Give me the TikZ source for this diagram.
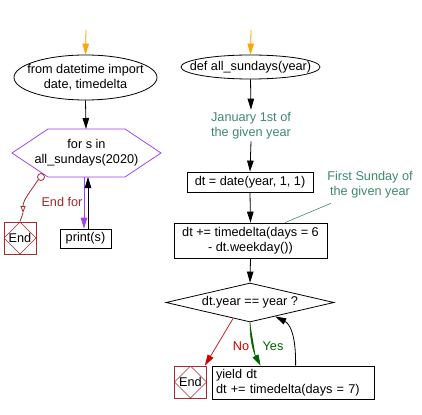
\documentclass[tikz,border=0pt]{standalone}
\usepackage{fontspec}
\setmainfont{Liberation Sans}
\usetikzlibrary{arrows.meta,shapes.geometric,calc}
\definecolor{orng}{HTML}{FFA500}
\definecolor{purp}{HTML}{A040F0}
\definecolor{brn}{HTML}{A52A2A}
\definecolor{notec}{HTML}{3F8A6B}
\definecolor{nored}{HTML}{CC0000}
\definecolor{yesgr}{HTML}{006400}
\begin{document}
\begin{tikzpicture}[x=1pt,y=-1pt,
  font=\fontsize{12.7}{15}\selectfont,
  line width=0.8pt,
  arr/.style={-{Triangle[length=11pt,width=6.5pt]}, line width=0.8pt},
  boxn/.style={draw, line width=0.8pt, inner sep=0pt, align=center},
  ellE/.style={ellipse, draw, line width=0.8pt, inner sep=0pt},
  notetxt/.style={text=notec, align=center, inner sep=2pt},
  endn/.style={draw=brn, line width=0.8pt, minimum size=32pt, inner sep=0pt,
    path picture={\draw[brn, line width=0.6pt] (path picture bounding box.north) -- (path picture bounding box.east) -- (path picture bounding box.south) -- (path picture bounding box.west) -- cycle;}}
]
\useasboundingbox[fill=white] (0,0) rectangle (422,414);

% ---------- left part ----------
\coordinate (startL) at (86,30);
\node[ellE, minimum width=143pt, minimum height=45pt] (imp) at (85.5,77.5) {};
\node[align=center, inner sep=0pt] (impt) at (imp) {from datetime import\\date, timedelta};

\draw[purp, line width=0.8pt] (48,129) -- (125,129) -- (161,153) -- (125,177) -- (48,177) -- (12,153) -- cycle;
\node[align=center, inner sep=0pt] (forn) at (86.5,153) {for s in\\all\_sundays(2020)};
\coordinate (forTop) at (86,129);
\coordinate (forB1) at (84,177);
\coordinate (forB2) at (88,177);

\node[boxn, minimum width=51pt, minimum height=19pt] (print) at (85.5,238.5) {print(s)};
\node[endn] (end1) at (20,238) {End};
\node[text=brn, inner sep=0pt] (endfor) at (62,202) {End for};
\node[circle, draw=brn, fill=white, line width=0.8pt, minimum size=7pt, inner sep=0pt] (circ) at (41,177) {};
\coordinate (efarr) at (23,213);

\draw[arr, draw=orng, fill=orng] (startL) -- (imp.north);
\draw[arr] (imp.south) -- (forTop);
\draw[arr, draw=purp, fill=purp] (forB1) -- ($(print.north)+(-1.5,0)$);
\draw[arr] ($(print.north)+(2.5,0)$) -- (forB2);
\draw[brn, -{Triangle[open, length=7pt, width=5pt]}] (circ.south west) .. controls (30,192) and (23,200) .. (efarr);
\draw[brn] (efarr) -- (end1.north);

% ---------- right part ----------
\coordinate (startR) at (251,30);
\node[ellE, minimum width=139pt, minimum height=24pt] (defE) at (250.5,67) {};
\node[inner sep=0pt] (deft) at (defE) {def all\_sundays(year)};
\node[notetxt] (jan) at (251,125.5) {January 1st of\\the given year};
\node[boxn, minimum width=126pt, minimum height=20pt] (box1) at (250,182) {dt = date(year, 1, 1)};
\node[boxn, minimum width=153pt, minimum height=35pt] (box2) at (250.5,240.5) {dt += timedelta(days = 6\\- dt.weekday())};
\node[notetxt] (first) at (370,184.5) {First Sunday of\\the given year};
\node[diamond, draw, aspect=4.3, minimum width=168pt, minimum height=39pt, inner sep=0pt] (dec) at (250,302.5) {dt.year == year ?};
\node[endn] (end2) at (190.5,382) {End};
\node[draw, line width=0.8pt, minimum height=33pt, inner ysep=0pt, inner xsep=4pt, text width=154pt, align=left] (yield) at (293,382.5) {yield dt\\dt += timedelta(days = 7)};
\node[text=nored, inner sep=0pt] (nol) at (241,346) {No};
\node[text=yesgr, inner sep=0pt] (yesl) at (273,346) {Yes};

\draw[arr, draw=orng, fill=orng] (startR) -- (defE.north);
\draw[arr] (defE.south) -- (jan.north);
\draw[arr] (jan.south) -- (box1.north);
\draw[arr] (box1.south) -- (box2.north);
\draw[arr] (box2.south) -- (dec.north);
\draw[notec, line width=0.6pt] ($(first.south west)+(6,3)$) -- ($(box2.north)+(34.5,0)$);
\draw[arr, draw=nored, fill=nored, line width=0.6pt] ($(dec.south)!0.2!(dec.west)$) -- ($(end2.north east)+(-2,0)$);
\draw[arr, draw=yesgr, fill=yesgr, line width=0.6pt] (dec.south) .. controls (250,345) and (255,355) .. ($(yield.north west)+(49,0)$);
\draw[arr] ($(yield.north west)+(84,0)$) .. controls (296,335) and (290,324) .. ($(dec.south)!0.3!(dec.east)$);
\end{tikzpicture}
\end{document}
